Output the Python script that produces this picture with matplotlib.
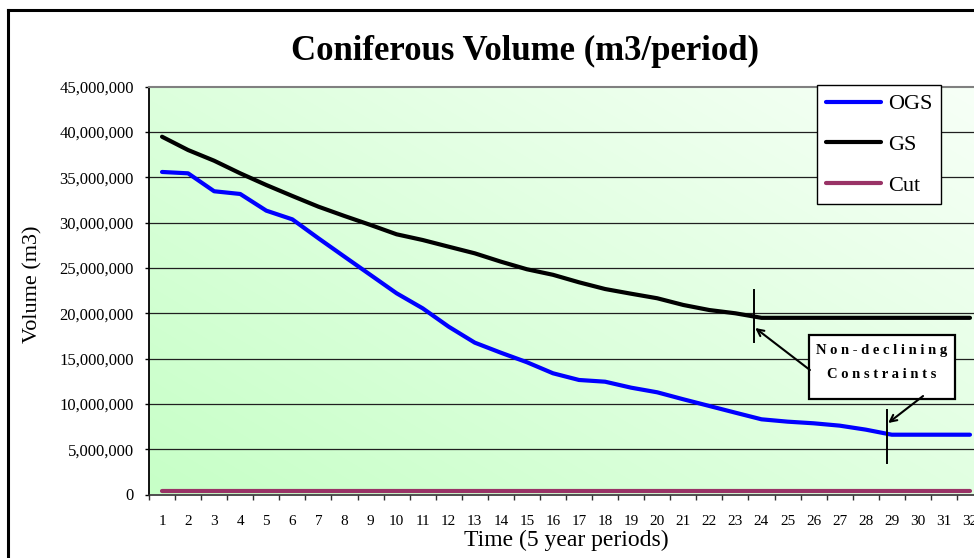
import matplotlib
matplotlib.use("Agg")
import matplotlib.pyplot as plt
import numpy as np
from matplotlib.lines import Line2D
from matplotlib.patches import Rectangle
from matplotlib.ticker import FuncFormatter, MultipleLocator

plt.rcParams['font.family'] = ['Liberation Serif', 'DejaVu Serif']

# ---- data -------------------------------------------------------------
periods = list(range(1, 33))
ogs = [35.60e6, 35.45e6, 33.47e6, 33.17e6, 31.33e6, 30.37e6, 28.28e6, 26.25e6,
       24.23e6, 22.21e6, 20.55e6, 18.52e6, 16.76e6, 15.65e6, 14.60e6, 13.38e6,
       12.64e6, 12.45e6, 11.79e6, 11.28e6, 10.51e6, 9.77e6, 9.03e6, 8.30e6,
       8.04e6, 7.86e6, 7.60e6, 7.16e6, 6.60e6, 6.60e6, 6.60e6, 6.60e6]
gs = [39.49e6, 38.02e6, 36.84e6, 35.45e6, 34.16e6, 32.95e6, 31.77e6, 30.74e6,
      29.75e6, 28.72e6, 28.09e6, 27.35e6, 26.62e6, 25.70e6, 24.86e6, 24.25e6,
      23.42e6, 22.68e6, 22.16e6, 21.66e6, 20.92e6, 20.36e6, 20.00e6, 19.50e6,
      19.50e6, 19.50e6, 19.50e6, 19.50e6, 19.50e6, 19.50e6, 19.50e6, 19.50e6]
cut = [0.42e6, 0.42e6, 0.42e6, 0.42e6, 0.42e6, 0.42e6, 0.42e6, 0.42e6,
       0.42e6, 0.42e6, 0.42e6, 0.42e6, 0.42e6, 0.42e6, 0.42e6, 0.42e6,
       0.42e6, 0.42e6, 0.42e6, 0.42e6, 0.42e6, 0.42e6, 0.42e6, 0.42e6,
       0.42e6, 0.42e6, 0.42e6, 0.42e6, 0.42e6, 0.42e6, 0.42e6, 0.42e6]
series_names = ['OGS', 'GS', 'Cut']
series_colors = ['#0000FF', '#000000', '#993366']
y_ticks = [0, 5e6, 10e6, 15e6, 20e6, 25e6, 30e6, 35e6, 40e6, 45e6]

# ---- figure -----------------------------------------------------------
W, H = 974, 558
fig = plt.figure(figsize=(W / 100, H / 100), dpi=100)
fig.patch.set_facecolor('white')

# chart frame (left and top edges)
fig.add_artist(Line2D([7.5 / W, 7.5 / W], [0, 1 - 10 / H], color='black',
                      lw=2.2, transform=fig.transFigure))
fig.add_artist(Line2D([7.5 / W, 1], [1 - 10 / H, 1 - 10 / H], color='black',
                      lw=2.2, transform=fig.transFigure))

ax = fig.add_axes([149 / W, 63.5 / H, 834 / W, 407.7 / H])
ax.set_xlim(0.5, 32.5)
ax.set_ylim(0, 45e6)

# diagonal green-to-white fill of the plot area
n = 256
gx, gy = np.meshgrid(np.linspace(0, 1, n), np.linspace(0, 1, n))
t = (gx * 0.55 + gy * 0.45)
c0 = np.array([0.78, 1.0, 0.78])
c1 = np.array([0.97, 1.0, 0.97])
img = c0[None, None, :] * (1 - t[..., None]) + c1[None, None, :] * t[..., None]
ax.imshow(img, extent=[0, 1, 0, 1], transform=ax.transAxes, origin='lower',
          aspect='auto', zorder=0, interpolation='bilinear')

for v in y_ticks[1:-1]:
    ax.axhline(v, color='#202020', lw=0.9, zorder=1)

for vals, name, col in zip([ogs, gs, cut], series_names, series_colors):
    ax.plot(periods, vals, color=col, lw=3.0, label=name, zorder=3,
            solid_capstyle='round', solid_joinstyle='round')

# axes styling
ax.spines['right'].set_visible(False)
ax.spines['top'].set_color('#808080')
ax.spines['top'].set_linewidth(1.5)
ax.spines['left'].set_color('black')
ax.spines['left'].set_linewidth(1.3)
ax.spines['bottom'].set_color('#303030')
ax.spines['bottom'].set_linewidth(1.2)

ax.set_yticks(y_ticks)
ax.yaxis.set_major_formatter(FuncFormatter(lambda v, p: f"{int(round(v)):,}"))
ax.tick_params(axis='y', direction='out', length=3, width=1, pad=8,
               labelsize=12, colors='black')
ax.set_xticks(periods)
ax.set_xticklabels([str(p) for p in periods])
ax.xaxis.set_minor_locator(MultipleLocator(1, offset=0.5))
ax.tick_params(axis='x', which='major', length=0, pad=15, labelsize=11)
ax.tick_params(axis='x', which='minor', direction='out', length=3.5, width=1,
               color='#303030')

# titles
fig.text(525 / W, 1 - 60 / H, 'Coniferous Volume (m3/period)', ha='center',
         va='baseline', fontsize=25, fontweight='bold')
fig.text(566 / W, 1 - 540 / H, 'Time (5 year periods)', ha='center',
         va='center', fontsize=17)
fig.text(33 / W, 1 - 284 / H, 'Volume (m3)', ha='center', va='center',
         rotation=90, fontsize=16)

# legend
leg = ax.legend(loc='upper left', bbox_to_anchor=(817 / W, 1 - 85 / H),
                bbox_transform=fig.transFigure, fontsize=16, frameon=True,
                fancybox=False, framealpha=1, edgecolor='black',
                borderpad=0.4, handlelength=2.5, handletextpad=0.3,
                labelspacing=0.9, borderaxespad=0)
leg.get_frame().set_linewidth(1.0)
leg.set_zorder(6)

# non-declining constraint markers and callout
ax.plot([23.72, 23.72], [16.83e6, 22.57e6], color='black', lw=1.4, zorder=4)
ax.plot([28.82, 28.82], [3.48e6, 9.33e6], color='black', lw=1.4, zorder=4)
ax.add_patch(Rectangle((25.83, 10.54e6), 5.6, 7.06e6, facecolor='white',
                       edgecolor='black', lw=1.6, zorder=5))
ax.text(28.62, 15.94e6, 'N o n - d e c l i n i n g', ha='center', va='center',
        fontsize=10.5, fontweight='bold', zorder=6)
ax.text(28.62, 13.30e6, 'C o n s t r a i n t s', ha='center', va='center',
        fontsize=10.5, fontweight='bold', zorder=6)
arrow = dict(arrowstyle='->', color='black', lw=1.5, shrinkA=0, shrinkB=0,
             mutation_scale=12)
ax.annotate('', xy=(23.76, 18.38e6), xytext=(25.86, 13.74e6),
            arrowprops=arrow, zorder=6)
ax.annotate('', xy=(28.86, 7.89e6), xytext=(30.2, 10.87e6),
            arrowprops=arrow, zorder=6)

fig.savefig('out.png', dpi=100, facecolor='white')
